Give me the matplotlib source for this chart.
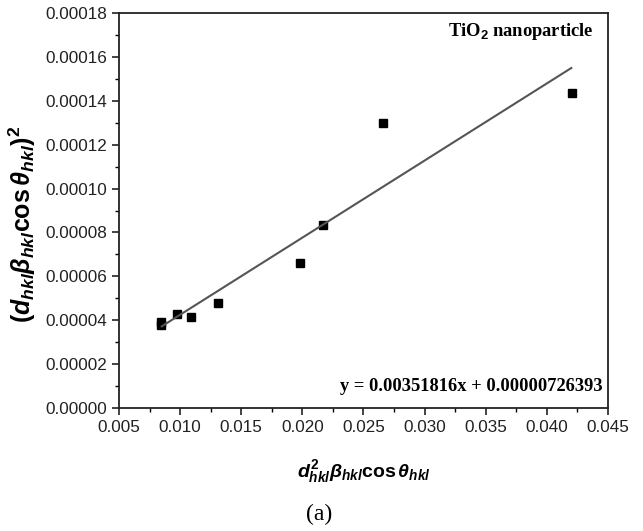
import numpy as np
import matplotlib
matplotlib.use("Agg")
import matplotlib.pyplot as plt
from matplotlib.ticker import MultipleLocator

plt.rcParams['font.family'] = 'Liberation Sans'
plt.rcParams['mathtext.fontset'] = 'custom'
plt.rcParams['mathtext.it'] = 'Liberation Sans:italic:bold'
plt.rcParams['mathtext.rm'] = 'Liberation Sans:bold'
plt.rcParams['mathtext.bf'] = 'Liberation Sans:bold'

# data
x_vals = [0.00846, 0.00846, 0.00974, 0.01087, 0.01312, 0.01978, 0.02169, 0.02662, 0.04208]
y_vals = [0.0000391, 0.0000378, 0.0000428, 0.0000413, 0.0000479, 0.0000659, 0.0000836, 0.0001301, 0.0001436]
slope = 0.00351816
intercept = 0.00000726393
fit_range = [0.0085, 0.0420]

fig = plt.figure(figsize=(6.43, 5.31), dpi=100)
ax = fig.add_axes([0.185, 0.232, 0.7605, 0.743])

ax.plot(x_vals, y_vals, 's', color='black', markersize=6)
fit_x = np.array(fit_range)
ax.plot(fit_x, np.polyval([slope, intercept], fit_x), color='#555555', lw=1.5)

ax.set_xlim(0.005, 0.045)
ax.set_ylim(0, 0.00018)
ax.xaxis.set_major_locator(MultipleLocator(0.005))
ax.xaxis.set_minor_locator(MultipleLocator(0.0025))
ax.yaxis.set_major_locator(MultipleLocator(0.00002))
ax.yaxis.set_minor_locator(MultipleLocator(0.00001))
ax.xaxis.set_major_formatter(lambda v, p: f"{v:.3f}")
ax.yaxis.set_major_formatter(lambda v, p: f"{v:.5f}")
ax.tick_params(which='major', direction='out', length=5, width=1.2, labelsize=12.3, colors='#222222')
ax.tick_params(which='minor', direction='out', length=3, width=1.0)
for s in ax.spines.values():
    s.set_linewidth(1.3)
    s.set_color('#222222')

ax.set_xlabel(r'$d^2_{hkl}\beta_{hkl}\mathrm{cos}\,\theta_{hkl}$', fontsize=14)
ax.xaxis.set_label_coords(0.5, -0.128)
ax.set_ylabel(r'$(d_{hkl}\beta_{hkl}\mathrm{cos}\,\theta_{hkl})^2$', fontsize=18)
ax.yaxis.set_label_coords(-0.165, 0.466)

ax.text(0.97, 0.955, r'TiO$_\mathbf{2}$ nanoparticle', transform=ax.transAxes, ha='right', va='center',
        family='Liberation Serif', fontweight='bold', fontsize=13.3)
ax.text(0.99, 0.055, 'y = 0.00351816x + 0.00000726393', transform=ax.transAxes, ha='right', va='center',
        family='Liberation Serif', fontweight='bold', fontsize=13.3)

fig.text(0.497, 0.032, '(a)', ha='center', va='center', family='Liberation Serif', fontsize=17)

fig.savefig('out.png', dpi=100, facecolor='white')
